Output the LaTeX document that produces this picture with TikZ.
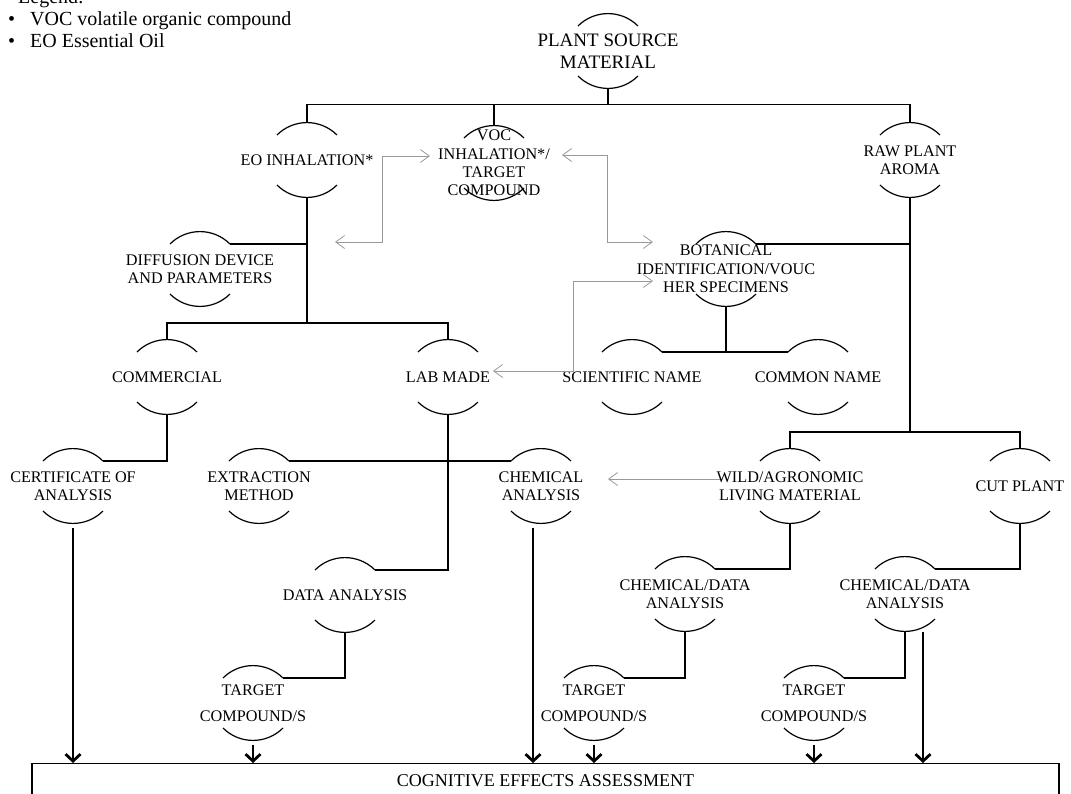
\documentclass[tikz,border=0pt]{standalone}
\usepackage{fontspec}
\setmainfont{Liberation Serif}
\usepackage{tikz}
\usetikzlibrary{arrows.meta, positioning, calc}

\newcommand{\bubfont}{\fontsize{16.2}{18.3}\selectfont}
\newcommand{\srcfont}{\fontsize{19}{22}\selectfont}
\newcommand{\legfont}{\fontsize{20}{22}\selectfont}
\newcommand{\cogfont}{\fontsize{18}{20}\selectfont}

\begin{document}
\begin{tikzpicture}[x=1pt, y=1pt,
    bub/.style={align=center, font=\bubfont, inner sep=0pt},
    link/.style={line width=1.2pt},
    back/.style={draw=black!40, line width=0.8pt,
        arrows={Straight Barb[length=9pt, width=13pt]-Straight Barb[length=9pt, width=13pt]}},
    feed/.style={line width=2.8pt, -{Straight Barb[length=7pt, width=15pt]}}]

    \useasboundingbox (0,0) rectangle (1071,-793);

    % Legend
    \node[anchor=base west, font=\legfont, inner sep=0pt] (leg) at (18,-3.5) {Legend:};
    \node[anchor=base west, font=\legfont, inner sep=0pt] (leg-1) at (8,-25) {\makebox[22pt][l]{\textbullet}VOC volatile organic compound};
    \node[anchor=base west, font=\legfont, inner sep=0pt] (leg-2) at (8,-47) {\makebox[22pt][l]{\textbullet}EO Essential Oil};

    % Nodes (text only, the arcs come below)
    \node[bub, font=\srcfont] (src) at (608,-51) {PLANT SOURCE\\MATERIAL};
    \node[bub] (eo) at (307,-160) {EO INHALATION*};
    \node[bub] (voc) at (494,-163) {VOC\\INHALATION*/\\TARGET\\COMPOUND};
    \node[bub] (raw) at (910,-160) {RAW PLANT\\AROMA};
    \node[bub] (diff) at (200,-269) {DIFFUSION DEVICE\\AND PARAMETERS};
    \node[bub] (bot) at (726,-269) {BOTANICAL\\IDENTIFICATION/VOUC\\HER SPECIMENS};
    \node[bub] (comm) at (167,-377) {COMMERCIAL};
    \node[bub] (lab) at (448,-377) {LAB MADE};
    \node[bub] (sci) at (632,-377) {SCIENTIFIC NAME};
    \node[bub] (common) at (818,-377) {COMMON NAME};
    \node[bub] (cert) at (73,-486) {CERTIFICATE OF\\ANALYSIS};
    \node[bub] (extr) at (259,-486) {EXTRACTION\\METHOD};
    \node[bub] (chem) at (541,-486) {CHEMICAL\\ANALYSIS};
    \node[bub] (wild) at (790,-486) {WILD/AGRONOMIC\\LIVING MATERIAL};
    \node[bub] (cut) at (1020,-486) {CUT PLANT};
    \node[bub] (data) at (345,-595) {DATA ANALYSIS};
    \node[bub] (cda-1) at (685,-594) {CHEMICAL/DATA\\ANALYSIS};
    \node[bub] (cda-2) at (905,-594) {CHEMICAL/DATA\\ANALYSIS};
    \node[bub] (tc-1) at (253,-703) {TARGET\\[8pt]COMPOUND/S};
    \node[bub] (tc-2) at (594,-703) {TARGET\\[8pt]COMPOUND/S};
    \node[bub] (tc-3) at (814,-703) {TARGET\\[8pt]COMPOUND/S};

    \node[draw, line width=1.2pt, minimum width=1027pt, minimum height=34pt,
        anchor=north, font=\cogfont] (cog) at (545.5,-763) {COGNITIVE EFFECTS ASSESSMENT};

    % Arcs above and below each label
    \foreach \n in {src,eo,voc,raw,diff,bot,comm,lab,sci,common,cert,extr,chem,wild,cut,data,cda-1,cda-2,tc-1,tc-2,tc-3} {
        \coordinate (\n-t) at ($(\n.center)+(0,37.5)$);
        \coordinate (\n-b) at ($(\n.center)+(0,-37.5)$);
        \coordinate (\n-tl) at ($(\n.center)+(-30,25)$);
        \coordinate (\n-tr) at ($(\n.center)+(30,25)$);
        \coordinate (\n-bl) at ($(\n.center)+(-30,-25)$);
        \draw[link] (\n-tl) arc[start angle=135, end angle=45, radius=42.4pt];
        \draw[link] (\n-bl) arc[start angle=225, end angle=315, radius=42.4pt];
    }

    % Tree lines
    \draw[link] (src-b) -- ++(0,-16) coordinate (j-1);
    \draw[link] (eo-t) |- (j-1) -| (raw-t);
    \draw[link] (voc-t) -- (voc-t |- j-1);
    \draw[link] (eo-b) -- ++(0,-125.5) coordinate (j-2);
    \draw[link] (diff-tr) -- (diff-tr -| eo-b);
    \draw[link] (comm-t) |- (j-2) -| (lab-t);
    \draw[link] (raw-b) -- ++(0,-234.5) coordinate (j-3);
    \draw[link] (bot-tr) -- (bot-tr -| raw-b);
    \draw[link] (wild-t) |- (j-3) -| (cut-t);
    \draw[link] (bot-b) -- (bot-b |- sci-tr);
    \draw[link] (sci-tr) -- (common-tl);
    \draw[link] (comm-b) |- (cert-tr);
    \draw[link] (extr-tr) -- (chem-tl);
    \draw[link] (lab-b) |- (data-tr);
    \draw[link] (wild-b) |- (cda-1-tr);
    \draw[link] (cut-b) |- (cda-2-tr);
    \draw[link] (data-b) |- (tc-1-tr);
    \draw[link] (cda-1-b) |- (tc-2-tr);
    \draw[link] (cda-2-b) |- (tc-3-tr);

    % Grey cross links
    \coordinate (dtip) at (335,-242);
    \draw[back] (dtip) -- ++(47,0) |- ([shift={(-64,7)}]voc.center);
    \draw[back] ([shift={(68,8)}]voc.center) -- ++(45,0) |- ([shift={(-73,27)}]bot.center);
    \draw[back] ([shift={(45,6)}]lab.center) -- ++(80,0) |- ([shift={(-73,-12)}]bot.center);
    \draw[back, arrows={-Straight Barb[length=9pt, width=13pt]}] ([shift={(-70,7)}]wild.center) -- ([shift={(67,7)}]chem.center);

    % Into the assessment
    \draw[feed, shorten <=4pt] (cert-b) -- (cert-b |- cog.north);
    \draw[feed, shorten <=4pt] ([xshift=-8pt]chem-b) -- ([xshift=-8pt]chem-b |- cog.north);
    \draw[feed, shorten <=4pt] (tc-1-b) -- (tc-1-b |- cog.north);
    \draw[feed, shorten <=4pt] (tc-2-b) -- (tc-2-b |- cog.north);
    \draw[feed, shorten <=4pt] (tc-3-b) -- (tc-3-b |- cog.north);
    \draw[feed] ([xshift=18pt]cda-2-b) -- ([xshift=18pt]cda-2-b |- cog.north);

\end{tikzpicture}
\end{document}
